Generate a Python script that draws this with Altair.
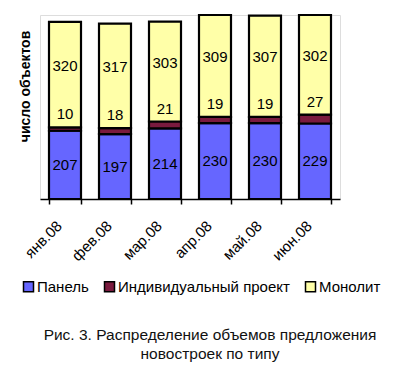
import altair as alt
import pandas as pd

months = ["янв.08", "фев.08", "мар.08", "апр.08", "май.08", "июн.08"]
series = ["Панель", "Индивидуальный проект", "Монолит"]
panel = [207, 197, 214, 230, 230, 229]
individual = [10, 18, 21, 19, 19, 27]
monolit = [320, 317, 303, 309, 307, 302]
colors = ["#6666ff", "#7a1a3e", "#ffffa8"]

rows = []
for i, m in enumerate(months):
    for k, (s, vals) in enumerate(zip(series, [panel, individual, monolit])):
        rows.append({"month": m, "series": s, "value": vals[i], "ord": k})
df = pd.DataFrame(rows)

FONT = "Liberation Sans"

x_enc = alt.X("month:N", sort=months, title=None,
              scale=alt.Scale(paddingInner=0.36, paddingOuter=0.18),
              axis=alt.Axis(labelAngle=-45, labelFontSize=15, labelFont=FONT,
                            labelColor="black", tickBand="extent",
                            domain=True, domainColor="black", tickColor="black",
                            domainWidth=1.5, tickWidth=1.5, tickSize=5,
                            labelPadding=14, labelOffset=-11, grid=False))

y_axis = alt.Axis(title="число объектов", labels=False, ticks=False,
                  domain=False, grid=False, titleFontSize=14,
                  titleFont=FONT, titleFontWeight="bold",
                  titleColor="black", titleX=-8, titleY=71,
                  titleAngle=-90)

base = alt.Chart(df)

bars = base.mark_bar(stroke="black", strokeWidth=2.2).encode(
    x=x_enc,
    y=alt.Y("sum(value):Q", stack="zero",
            scale=alt.Scale(domain=[0, 558], nice=False), axis=y_axis),
    color=alt.Color("series:N", sort=series,
                    scale=alt.Scale(domain=series, range=colors),
                    legend=alt.Legend(title=None, orient="none",
                                      direction="horizontal",
                                      legendX=-19, legendY=264,
                                      symbolType="square", symbolSize=100,
                                      symbolStrokeColor="black",
                                      symbolStrokeWidth=1.5,
                                      symbolOpacity=1,
                                      labelFontSize=15, labelFont=FONT,
                                      labelColor="black", labelOffset=1,
                                      labelLimit=400,
                                      columnPadding=12)),
    order=alt.Order("ord:Q"),
)

stacked = base.transform_stack(
    stack="value", groupby=["month"], as_=["y0", "y1"],
    sort=[alt.SortField("ord", order="ascending")]
).transform_calculate(mid="(datum.y0 + datum.y1) / 2")

def labels(name, field, dy):
    return stacked.transform_filter(alt.datum.series == name).mark_text(
        fontSize=15, font=FONT, color="black", dy=dy, baseline="middle"
    ).encode(
        x=x_enc,
        y=alt.Y(field + ":Q", axis=y_axis),
        text="value:Q",
    )

chart = alt.layer(
    bars,
    labels("Панель", "mid", 0),
    labels("Индивидуальный проект", "y1", -13),
    labels("Монолит", "mid", -9),
).properties(
    width=300, height=184,
    padding={"left": 32, "top": 7, "right": 48, "bottom": 165},
    autosize=alt.AutoSizeParams(type="none"),
    title=alt.TitleParams(
        ["Рис. 3. Распределение объемов предложения", "новостроек по типу"],
        orient="bottom", anchor="middle", dx=20, offset=33,
        fontSize=15.5, font=FONT, fontWeight="normal", color="#111111",
        lineHeight=19),
).configure_view(stroke="transparent", strokeWidth=0).configure_axis(
    grid=False, domain=False
).configure(background="white")

chart.save("out.html", embed_options={"renderer": "svg", "actions": False})
